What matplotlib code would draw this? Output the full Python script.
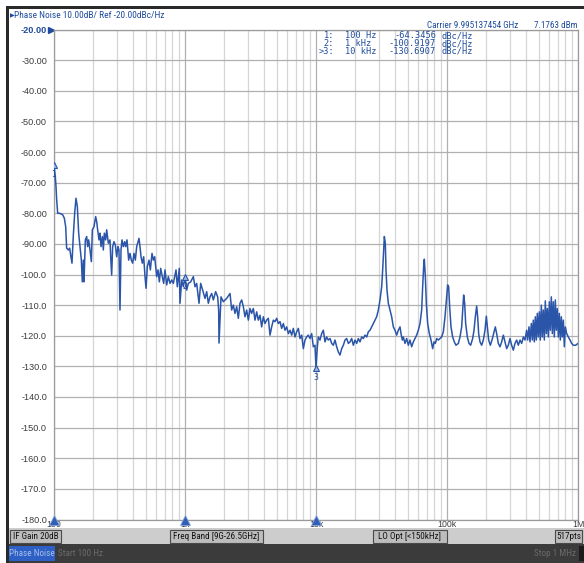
import matplotlib
matplotlib.use('Agg')
import matplotlib.pyplot as plt
from matplotlib.patches import Rectangle
from matplotlib.ticker import LogLocator, NullFormatter
from matplotlib import transforms, font_manager

# --- trace readings (offset frequency in Hz, level in dBc/Hz) ---
trace_100_2k = [
    (102.3, -68.0), (103.6, -71.3), (104.8, -75.6), (106.7, -80.0), (109.8, -80.0),
    (113.1, -80.2), (116.5, -80.5), (119.9, -81.6), (122.8, -84.4), (124.9, -91.4),
    (128.7, -92.0), (131.7, -91.4), (134.0, -93.6), (137.2, -96.3), (138.8, -92.0),
    (140.5, -87.1), (143.8, -80.0), (147.2, -75.1), (150.7, -77.8), (154.3, -86.5),
    (157.9, -90.9), (161.7, -95.3), (164.5, -102.4), (167.5, -95.3), (169.4, -102.4),
    (173.5, -88.7), (177.6, -87.6), (180.7, -90.9), (183.9, -88.7), (188.3, -92.0),
    (192.8, -95.8), (196.2, -85.4), (202.0, -84.4), (208.0, -81.1), (211.7, -82.7),
    (215.4, -85.4), (220.5, -88.7), (224.4, -86.5), (228.5, -90.9), (233.9, -87.6),
    (238.0, -92.0), (242.2, -86.5), (248.0, -88.7), (252.4, -85.4), (259.9, -89.8),
    (267.6, -88.7), (270.8, -94.2), (275.5, -100.2), (280.4, -90.9), (287.1, -89.3),
    (293.9, -90.4), (300.9, -94.2), (307.9, -90.9), (313.4, -92.0), (319.0, -111.6),
    (324.7, -92.0), (330.4, -88.7), (338.3, -90.9), (346.3, -89.3), (352.4, -90.9),
    (360.8, -88.7), (371.5, -95.3), (380.4, -93.1), (389.4, -95.3), (398.6, -96.3),
    (408.1, -93.1), (417.8, -95.3), (427.7, -90.9), (445.6, -88.2), (453.5, -90.9),
    (461.5, -94.2), (472.5, -96.3), (483.7, -94.2), (495.2, -100.7), (504.0, -104.5),
    (515.9, -97.4), (531.3, -95.3), (543.8, -98.5), (560.0, -93.1), (573.3, -95.3),
    (586.9, -94.2), (607.8, -100.7), (622.2, -98.5), (637.0, -102.4), (652.1, -98.0),
    (671.5, -100.7), (687.4, -102.9), (703.7, -98.5), (724.7, -103.4), (746.3, -100.7),
    (768.5, -102.9), (791.3, -101.8), (814.8, -102.9), (853.9, -98.5), (873.6, -104.0),
    (904.9, -98.0), (915.6, -109.4), (943.2, -101.8), (971.2, -104.0),
    (1030, -105.1), (1060, -102.9), (1105, -102.4), (1158, -100.7), (1192, -104.0),
    (1228, -102.9), (1279, -109.4), (1317, -102.9), (1364, -105.1), (1421, -107.8),
    (1464, -105.6), (1507, -109.4), (1551, -107.3), (1598, -106.2), (1646, -108.3),
    (1714, -105.6), (1776, -107.3), (1807, -111.6), (1818, -122.4), (1883, -107.3),
    (1962, -108.9), (2080, -107.8), (2206, -106.2),
]

trace_2k_44k = [
    (2271, -111.6), (2338, -110.0), (2408, -112.7), (2480, -110.5), (2553, -114.3),
    (2629, -109.4), (2708, -108.3), (2788, -110.5), (2871, -113.8), (2956, -111.6),
    (3045, -114.9), (3135, -111.1), (3228, -112.7), (3323, -111.1), (3423, -114.9),
    (3524, -112.2), (3629, -114.9), (3737, -113.3), (3848, -117.1), (3963, -113.8),
    (4080, -116.0), (4201, -114.9), (4327, -114.3), (4456, -119.8), (4588, -117.1),
    (4724, -114.9), (4865, -115.4), (5010, -114.3), (5159, -116.0), (5312, -115.4),
    (5470, -117.6), (5633, -116.0), (5800, -118.2), (5972, -117.1), (6151, -119.3),
    (6333, -118.2), (6521, -119.8), (6714, -117.6), (6915, -120.4), (7120, -118.7),
    (7331, -117.6), (7549, -120.9), (7775, -119.8), (8005, -124.2), (8243, -121.4),
    (8488, -120.4), (8739, -119.8), (9001, -120.9), (9268, -119.3), (9543, -123.6),
    (9826, -123.1),
    (10237, -123.6), (10418, -120.4), (10727, -121.4), (11048, -119.3), (11376, -118.2),
    (11713, -122.0), (12061, -120.4), (12419, -121.4), (12794, -120.9), (13174, -122.5),
    (13565, -123.1), (13964, -121.4), (14383, -123.6), (14809, -125.3), (15249, -126.3),
    (15702, -124.2), (16172, -123.1), (16652, -121.4), (17146, -120.9), (17655, -122.5),
    (18179, -122.0), (18723, -120.9), (19278, -123.1), (19850, -121.4), (20440, -122.5),
    (21050, -120.9), (21675, -122.0), (22318, -120.4), (22980, -120.9), (23660, -119.8),
    (24370, -120.4), (25090, -118.7), (25830, -118.2), (26600, -117.1), (27400, -116.0),
    (28210, -114.9), (29050, -113.8), (29910, -111.6), (30800, -108.3), (31720, -104.0),
    (32280, -98.5), (32850, -92.0), (33240, -87.6), (33820, -89.8), (34220, -98.5),
    (34830, -105.1), (35660, -109.4), (36720, -111.6), (37810, -113.8), (38930, -117.1),
    (40090, -118.2), (41290, -119.8), (42510, -118.2), (43780, -117.1),
]

trace_44k_1m = [
    (44560, -119.3), (45600, -121.4), (46410, -120.4), (47790, -122.5), (49220, -120.9),
    (50680, -123.1), (52180, -121.4), (53740, -123.6), (55340, -122.0), (56980, -120.9),
    (58670, -119.8), (60420, -118.2), (62220, -116.0), (64060, -111.6), (65190, -104.0),
    (66340, -97.4), (67130, -95.0), (68330, -100.7), (69540, -109.4), (71190, -116.0),
    (73300, -119.3), (75480, -121.4), (77720, -124.2), (79560, -122.0), (81450, -122.5),
    (83390, -120.9), (85860, -121.4), (88410, -120.9), (91050, -120.4), (93760, -118.7),
    (96540, -113.8), (99400, -107.3), (101160, -103.4), (102960, -104.0), (104790, -110.5),
    (107280, -117.1), (110460, -120.4), (113740, -122.0), (117150, -123.1), (122060, -122.5),
    (125670, -120.4), (129400, -117.1), (131700, -111.6), (134030, -106.7), (136400, -109.4),
    (138830, -116.0), (142960, -120.4), (147210, -122.5), (151580, -123.1), (157010, -120.9),
    (160730, -118.2), (164540, -113.8), (168450, -110.3), (171430, -113.8), (174470, -119.3),
    (178610, -122.0), (183920, -123.1), (189380, -121.4), (195010, -118.2), (199620, -113.6),
    (203180, -117.1), (207990, -121.4), (214170, -123.1), (220530, -121.4), (227090, -119.3),
    (233830, -117.1), (239380, -119.3), (246500, -122.5), (253830, -123.6), (261360, -122.0),
    (269150, -119.8), (277140, -122.0), (285390, -124.2), (293860, -123.1), (302590, -120.9),
    (311580, -123.1), (320870, -124.7), (330390, -122.5), (340200, -121.4), (350300, -123.1),
    (360770, -121.4), (371530, -122.5), (382550, -120.4), (393900, -121.4), (405580, -118.2),
    (412760, -121.4), (422650, -117.1), (430100, -122.0), (440330, -116.0), (448090, -121.4),
    (456000, -114.9), (464120, -122.0), (472330, -113.8), (480680, -121.4), (489170, -112.7),
    (497920, -120.4), (506720, -112.2), (515670, -121.4), (524900, -110.0), (534180, -120.4),
    (543620, -111.6), (553350, -121.4), (563130, -108.6), (573080, -119.3), (583200, -111.1),
    (593640, -120.4), (604130, -108.9), (614810, -118.2), (625810, -107.3), (636860, -119.3),
    (648110, -108.9), (659700, -120.4), (671360, -108.3), (683220, -118.2), (695450, -111.1),
    (707730, -120.4), (720230, -112.7), (733110, -121.4), (746070, -113.8), (759250, -120.4),
    (772830, -114.9), (786490, -123.6), (800370, -117.1), (819400, -119.3), (843800, -120.4),
    (868800, -121.4), (894700, -122.5), (921100, -123.1), (959800, -123.1), (1000000, -122.5),
]

# --- markers ---
marker_ids = ['1', '2', '3']
marker_tags = ['1:', '2:', '>3:']
marker_freq = [100, 1000, 10000]
marker_freq_text = ['100 Hz', '1 kHz', '10 kHz']
marker_dbc = [-64.3456, -100.9197, -130.6907]

# --- axes ---
ytick_vals = list(range(-20, -190, -10))
xtick_vals = [1e2, 1e3, 1e4, 1e5, 1e6]
xtick_labels = ['100', '1k', '10k', '100k', '1M']

title_text = 'Phase Noise 10.00dB/ Ref -20.00dBc/Hz'
carrier_text = 'Carrier 9.995137454 GHz'
carrier_power = '7.1763 dBm'
status_boxes = ['IF Gain 20dB', 'Freq Band [9G-26.5GHz]', 'LO Opt [<150kHz]', '517pts']

BLUE = '#1f4c9c'
TRACE = '#2b55a8'
W, H = 584, 563

installed = {f.name for f in font_manager.fontManager.ttflist}
# condensed face for the instrument annotations, else plain sans a bit smaller
NARROW, NS = 'Liberation Sans', 0.84
for cand in ['Liberation Sans Narrow', 'Roboto Condensed', 'Open Sans Condensed']:
    if cand in installed:
        NARROW, NS = cand, 0.94
        break
MONO = 'DejaVu Sans Mono'

fig = plt.figure(figsize=(W / 100, H / 100), dpi=100)


def px_rect(x, y, w, h, **kw):
    fig.patches.append(Rectangle((x / W, 1 - (y + h) / H), w / W, h / H,
                                 transform=fig.transFigure, **kw))


def px_text(x, y, s, **kw):
    kw.setdefault('va', 'center')
    fig.text(x / W, 1 - y / H, s, **kw)


# frame lines on top / left
px_rect(6, 6, W - 6, 2.5, color='#2a2a2a', lw=0)
px_rect(6, 6, 2.5, H - 6, color='#2a2a2a', lw=0)

ax = fig.add_axes([54 / W, 1 - 519.5 / H, 524 / W, 490 / H])

pts = sorted(trace_100_2k + trace_2k_44k + trace_44k_1m + list(zip(marker_freq, marker_dbc)))
fx = [p[0] for p in pts]
fy = [p[1] for p in pts]
ax.plot(fx, fy, color=TRACE, lw=1.1, zorder=3)

ax.set_xscale('log')
ax.set_xlim(xtick_vals[0], xtick_vals[-1])
ax.set_ylim(ytick_vals[-1], ytick_vals[0])
ax.set_xticks(xtick_vals)
ax.set_xticklabels(xtick_labels)
ax.xaxis.set_minor_locator(LogLocator(base=10, subs=range(2, 10)))
ax.xaxis.set_minor_formatter(NullFormatter())
ax.set_yticks(ytick_vals)
ax.set_yticklabels([f'{v:.2f}' if v > -100 else f'{v:.1f}' for v in ytick_vals])
ax.grid(which='major', color='#b0b0b0', lw=0.9)
ax.grid(which='minor', axis='x', color='#d6d6d6', lw=0.9)
ax.set_axisbelow(True)
ax.tick_params(which='both', length=0)
ax.tick_params(axis='y', pad=5, labelsize=6.6, labelcolor='#3c3c3c')
ax.tick_params(axis='x', pad=0.5, labelsize=6.3, labelcolor='#3c3c3c')
for lab in ax.get_xticklabels() + ax.get_yticklabels():
    lab.set_family('Liberation Sans')
ref_lab = ax.get_yticklabels()[0]
ref_lab.set_color(BLUE)
ref_lab.set_fontweight('bold')
for s in ax.spines.values():
    s.set_color('#9a9a9a')
    s.set_linewidth(0.9)

# reference level pointer
ref_tr = transforms.offset_copy(ax.transData, fig=fig, x=-3.5, y=0, units='dots')
ax.plot([xtick_vals[0]], [ytick_vals[0]], '>', ms=5, color=BLUE, transform=ref_tr, clip_on=False)

# markers on the trace
ax.plot(marker_freq, marker_dbc, '^', ms=5, mfc='#9db4e0', mec=TRACE, mew=0.8, zorder=4)
for mid, f, v in zip(marker_ids, marker_freq, marker_dbc):
    ax.annotate(mid, (f, v), xytext=(0, -3.5), textcoords='offset points',
                ha='center', va='top', fontsize=5.5, color=BLUE, zorder=5)
# marker flags on the frequency axis
ax.plot(marker_freq, [ytick_vals[-1]] * len(marker_freq), '^', ms=7, mfc='#2f5fb8',
        mec='#8aa6dc', mew=0.6, clip_on=False, zorder=5)

# header
px_text(12.5, 16, '\u25b6', fontsize=4.5, color=BLUE, ha='center', family='DejaVu Sans')
px_text(14.5, 16, title_text, fontsize=7.2 * NS, color=BLUE, family=NARROW)
px_text(518, 25, carrier_text, fontsize=7.0 * NS, color=BLUE, ha='right', family=NARROW)
px_text(578, 25, carrier_power, fontsize=7.0 * NS, color=BLUE, ha='right', family=NARROW)

# marker table, one text block per column
tbl = dict(fontsize=6.2, color=BLUE, family=MONO, va='top', linespacing=0.82)
px_text(334, 31.5, '\n'.join(marker_tags), ha='right', **tbl)
px_text(345, 31.5, '\n'.join(marker_freq_text), ha='left', **tbl)
px_text(436, 31.5, '\n'.join(f'{v:.4f}' for v in marker_dbc), ha='right', **tbl)
px_text(442, 31.5, '\n'.join(['dBc/Hz'] * len(marker_dbc)), ha='left', **tbl)

# status bar
px_rect(8.5, 528, W - 8.5, 15.5, color='#cdcdcd', lw=0)
box_spans = [(10, 51), (170, 93), (373, 74), (555, 27)]
for label, (bx, bw) in zip(status_boxes, box_spans):
    px_rect(bx, 529.5, bw, 13, facecolor='#bdbdbd', edgecolor='#4a4a4a', lw=0.8)
    px_text(bx + bw / 2, 536.2, label, fontsize=7.0 * NS, color='#111111', ha='center', family=NARROW)

# softkey bar
px_rect(8.5, 544, W - 8.5, 19, color='#3b3b3b', lw=0)
px_rect(9, 546, 45.5, 15, color='#2d5fc4', lw=0)
px_text(31.7, 553.5, 'Phase Noise', fontsize=7.0 * NS, color='#a8c0ec', ha='center', family=NARROW)
px_text(58, 553.5, 'Start 100 Hz', fontsize=7.0 * NS, color='#6a6a6a', ha='left', family=NARROW)
px_text(576, 553.5, 'Stop 1 MHz', fontsize=7.0 * NS, color='#6a6a6a', ha='right', family=NARROW)
px_rect(579, 546, 5, 15, color='#1c1c1c', lw=0)

fig.savefig('out.png', dpi=100)
